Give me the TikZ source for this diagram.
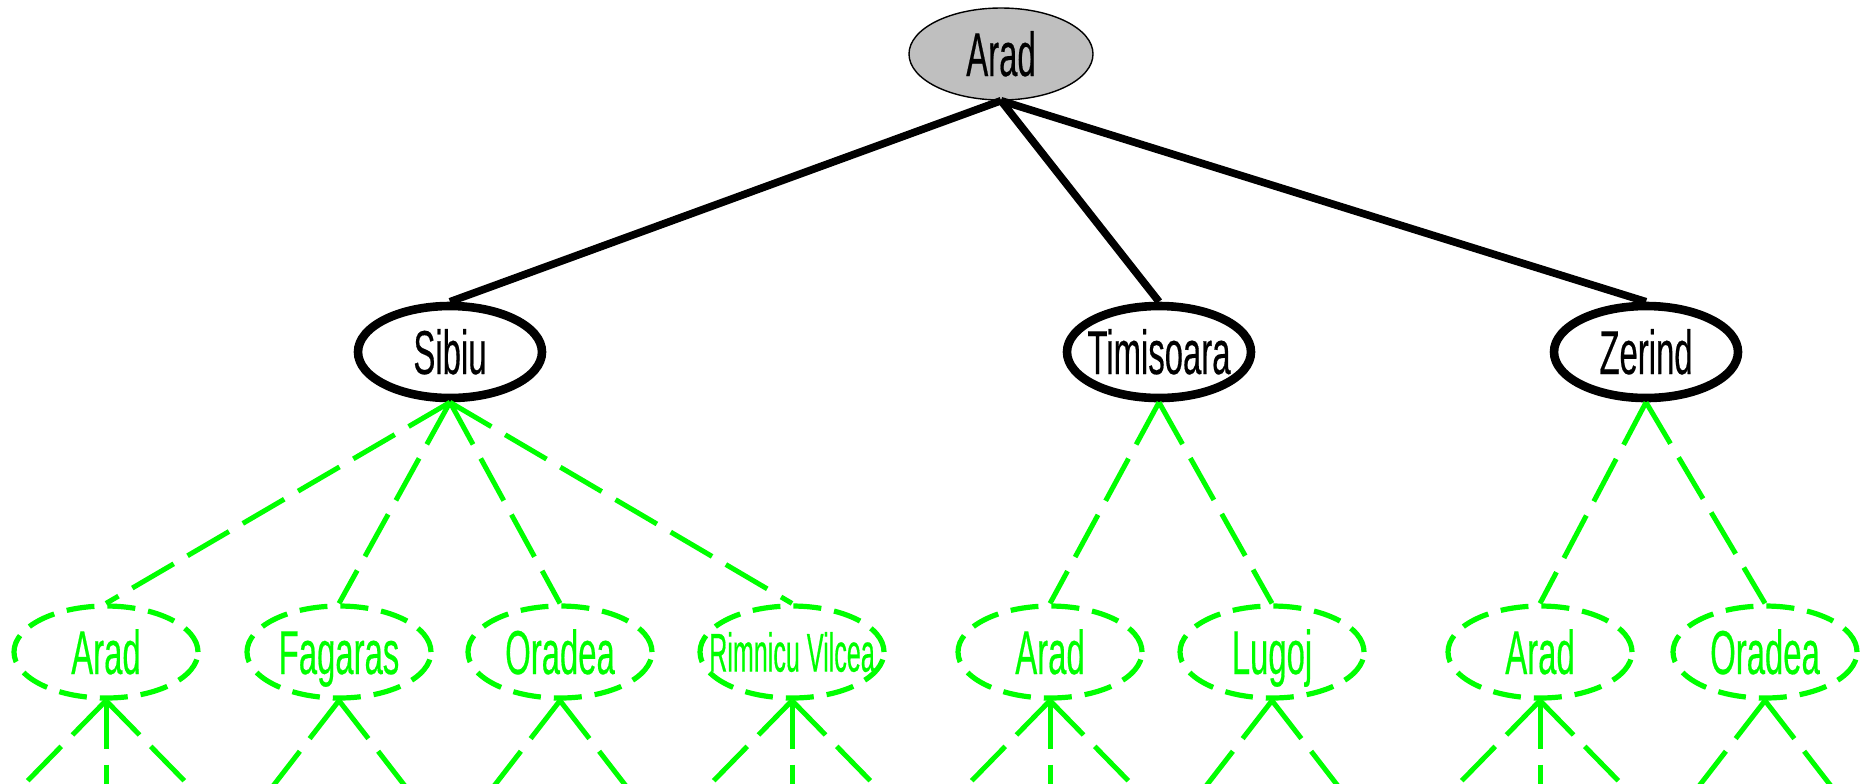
\documentclass[tikz,border=0pt]{standalone}
\usepackage{fontspec}
\setmainfont[FakeStretch=0.53,FakeBold=0.3]{Liberation Sans}
\newfontfamily\rvfont[FakeStretch=0.46,FakeBold=0.3]{Liberation Sans}
\usetikzlibrary{shapes.geometric}
\definecolor{leafgreen}{RGB}{0,255,0}

\begin{document}
\begin{tikzpicture}[x=0.5pt,y=-0.5pt,
    city/.style={ellipse,minimum width=92pt,minimum height=46pt,inner sep=0pt,
        text height=22pt,text depth=0pt,font=\fontsize{31}{31}\selectfont,
        execute at begin node={\hbox to 0pt\bgroup\hss},
        execute at end node={\hss\egroup}},
    rootcity/.style={city,draw,fill=gray!50,line width=0.7pt},
    frontier/.style={city,draw,line width=4.3pt},
    unseen/.style={city,draw=leafgreen,text=leafgreen,line width=2.6pt,
        dash pattern=on 14pt off 6.5pt},
    treeedge/.style={line width=3.8pt},
    newedge/.style={leafgreen,line width=2.5pt,dash pattern=on 24pt off 8pt}]
    \useasboundingbox (0,0) rectangle (1866,783);

    % 根结点
    \node[rootcity] (arad) at (1001,54) {Arad};

    % 第一层
    \node[frontier] (sibiu) at (450,352) {Sibiu};
    \node[frontier] (timisoara) at (1159,352) {Timisoara};
    \node[frontier] (zerind) at (1646,352) {Zerind};

    \foreach \c in {sibiu,timisoara,zerind} {
        \draw[treeedge] (arad.south) -- (\c.north);
    }

    % 第二层
    \node[unseen] (sibiuarad) at (106,652) {Arad};
    \node[unseen] (fagaras) at (339,652) {Fagaras};
    \node[unseen] (sibiuoradea) at (560,652) {Oradea};
    \node[unseen,font=\rvfont\fontsize{27.3}{27.3}\selectfont,text height=19.6pt] (rimnicu) at (792,652) {Rimnicu Vilcea};
    \node[unseen] (timiarad) at (1050,652) {Arad};
    \node[unseen] (lugoj) at (1272,652) {Lugoj};
    \node[unseen] (zerindarad) at (1540,652) {Arad};
    \node[unseen] (zerindoradea) at (1765,652) {Oradea};

    \foreach \p/\c in {sibiu/sibiuarad,sibiu/fagaras,sibiu/sibiuoradea,sibiu/rimnicu,
        timisoara/timiarad,timisoara/lugoj,zerind/zerindarad,zerind/zerindoradea} {
        \draw[newedge] (\p.south) -- (\c.north);
    }

    % 向下伸出的分支
    \foreach \c in {sibiuarad,rimnicu,timiarad,zerindarad} {
        \foreach \dx [count=\i] in {-86,0,86} {
            \path (\c.south) ++(\dx,88) coordinate (\c-\i);
            \draw[newedge] (\c.south) -- (\c-\i);
        }
    }
    \foreach \c in {fagaras,sibiuoradea,lugoj,zerindoradea} {
        \foreach \dx [count=\i] in {-68,68} {
            \path (\c.south) ++(\dx,88) coordinate (\c-\i);
            \draw[newedge] (\c.south) -- (\c-\i);
        }
    }

\end{tikzpicture}
\end{document}
